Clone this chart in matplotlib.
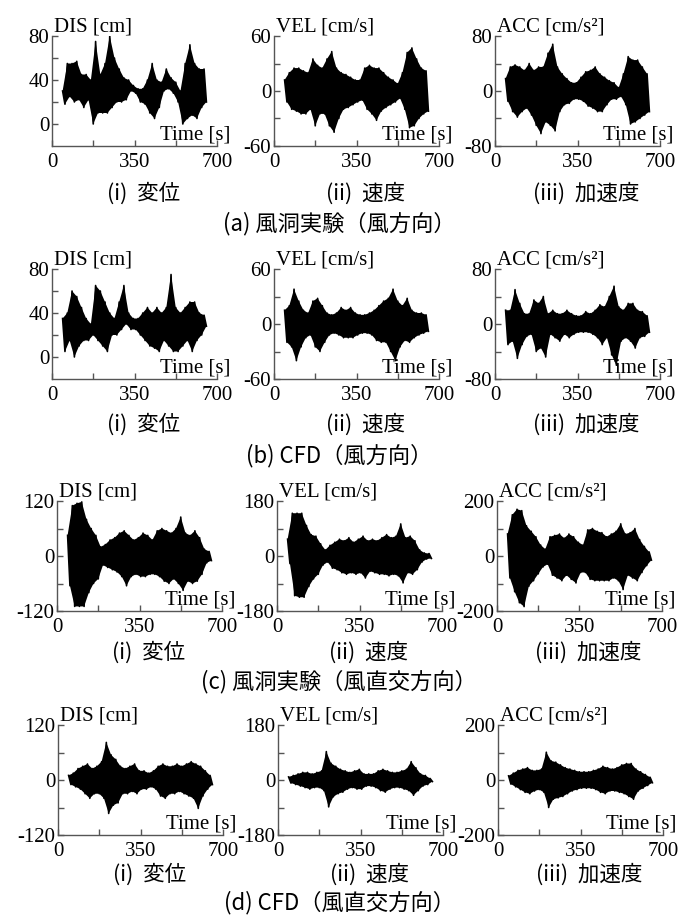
import numpy as np
import matplotlib
matplotlib.use("Agg")
import matplotlib.pyplot as plt

# envelope peaks: upper peak at t_up, lower peak 10 s later
t_up = np.arange(45, 646, 20)

a_dis_up = [30, 55, 55, 57, 45, 45, 40, 75, 45, 55, 80, 60, 50, 42, 40, 35, 32, 32, 40, 55, 40, 38, 50, 42, 38, 30, 55, 72, 55, 50, 50]
a_dis_lo = [18, 25, 20, 22, 15, 22, 0, 10, 10, 10, 15, 20, 20, 22, 30, 28, 20, 18, 10, 5, 15, 30, 32, 28, 20, 0, 5, 8, 5, 15, 20]
a_vel_up = [12, 20, 25, 25, 22, 20, 35, 28, 25, 35, 43, 25, 20, 18, 15, 12, 12, 25, 28, 25, 25, 20, 15, 12, 8, 20, 42, 47, 35, 25, 22]
a_vel_lo = [-12, -20, -22, -25, -25, -20, -38, -25, -25, -38, -45, -30, -20, -18, -15, -12, -10, -20, -25, -32, -22, -18, -15, -12, -8, -20, -40, -38, -30, -25, -22]
a_acc_up = [18, 35, 38, 35, 30, 40, 30, 35, 35, 55, 68, 35, 25, 18, 12, 12, 20, 28, 30, 35, 25, 20, 15, 12, 5, 25, 50, 45, 45, 35, 25]
a_acc_lo = [-15, -30, -38, -30, -25, -35, -50, -62, -45, -50, -58, -30, -20, -18, -12, -12, -15, -22, -25, -30, -30, -20, -12, -12, -8, -20, -48, -45, -40, -35, -30]

b_dis_up = [35, 40, 60, 55, 45, 35, 30, 65, 60, 50, 40, 35, 50, 65, 40, 35, 35, 40, 45, 40, 45, 40, 45, 75, 45, 40, 45, 50, 50, 40, 38]
b_dis_lo = [5, 15, 0, 10, 15, 15, 20, 15, 10, 5, 20, 20, 25, 30, 25, 25, 20, 15, 10, 8, 5, 15, 10, 5, 5, 10, 15, 5, 15, 20, 28]
b_vel_up = [15, 20, 38, 25, 15, 12, 25, 28, 20, 12, 10, 12, 18, 15, 18, 12, 10, 10, 12, 15, 20, 25, 28, 38, 25, 20, 28, 15, 12, 12, 10]
b_vel_lo = [-20, -25, -40, -25, -15, -12, -25, -30, -20, -12, -10, -12, -15, -15, -15, -12, -10, -10, -12, -18, -20, -20, -30, -40, -25, -18, -20, -15, -12, -10, -8]
b_acc_up = [20, 20, 50, 30, 15, 15, 35, 30, 40, 15, 20, 15, 15, 20, 15, 12, 12, 18, 15, 20, 28, 25, 40, 55, 25, 20, 30, 30, 20, 18, 12]
b_acc_lo = [-30, -25, -50, -30, -18, -15, -40, -35, -48, -15, -20, -25, -15, -20, -15, -12, -12, -12, -15, -20, -30, -20, -45, -60, -25, -20, -25, -35, -20, -18, -12]

c_dis_up = [45, 110, 115, 118, 80, 60, 45, 20, 25, 35, 40, 50, 55, 45, 35, 40, 50, 45, 35, 55, 60, 55, 50, 60, 85, 50, 45, 55, 40, 15, 10]
c_dis_lo = [-65, -110, -110, -110, -80, -60, -50, -20, -25, -30, -35, -45, -65, -45, -40, -45, -45, -40, -40, -45, -55, -60, -50, -60, -75, -55, -60, -55, -40, -15, -10]
c_vel_up = [55, 140, 140, 140, 100, 70, 65, 40, 20, 35, 45, 55, 50, 60, 45, 55, 65, 50, 55, 50, 60, 70, 60, 65, 105, 60, 65, 50, 20, 10, 8]
c_vel_lo = [-25, -130, -135, -135, -100, -75, -60, -30, -20, -40, -45, -55, -60, -55, -60, -55, -72, -50, -55, -60, -60, -65, -60, -65, -88, -55, -60, -45, -20, -10, -8]
c_acc_up = [80, 150, 170, 165, 110, 90, 70, 40, 25, 70, 75, 80, 65, 80, 70, 50, 40, 95, 100, 90, 85, 70, 80, 90, 117, 80, 85, 100, 60, 35, 15]
c_acc_lo = [-80, -130, -170, -184, -110, -90, -65, -40, -30, -70, -80, -90, -70, -85, -98, -60, -60, -85, -90, -90, -90, -90, -80, -90, -122, -70, -80, -90, -60, -35, -15]

d_dis_up = [10, 15, 25, 30, 35, 25, 30, 40, 82, 55, 45, 30, 25, 30, 35, 20, 20, 15, 20, 30, 35, 30, 30, 35, 30, 35, 40, 35, 30, 20, 10]
d_dis_lo = [-10, -15, -20, -30, -40, -30, -30, -40, -73, -55, -50, -30, -30, -25, -30, -20, -20, -15, -20, -35, -40, -30, -30, -25, -30, -35, -40, -62, -35, -20, -10]
d_vel_up = [10, 15, 20, 25, 25, 20, 25, 30, 93, 55, 45, 35, 30, 25, 30, 35, 20, 20, 20, 30, 35, 30, 25, 25, 30, 35, 60, 40, 20, 15, 5]
d_vel_lo = [-10, -15, -20, -25, -30, -25, -25, -35, -88, -55, -45, -40, -30, -25, -30, -30, -20, -20, -25, -35, -40, -30, -25, -25, -30, -35, -50, -35, -20, -15, -5]
d_acc_up = [15, 25, 35, 40, 45, 35, 35, 40, 101, 70, 65, 55, 45, 40, 35, 30, 30, 30, 35, 40, 50, 45, 40, 45, 55, 60, 60, 40, 30, 20, 10]
d_acc_lo = [-15, -25, -35, -45, -50, -40, -35, -45, -100, -70, -65, -60, -50, -40, -35, -30, -30, -30, -35, -45, -50, -40, -40, -45, -50, -60, -70, -40, -30, -20, -10]

quantity_labels = ["DIS [cm]", "VEL [cm/s]", "ACC [cm/s²]"]
sub_captions = ["(i)  変位", "(ii)  速度", "(iii)  加速度"]
row_captions = ["(a) 風洞実験（風方向）", "(b) CFD（風方向）",
                "(c) 風洞実験（風直交方向）", "(d) CFD（風直交方向）"]

# y limits / labelled ticks per row and column
ylims = [[(-20, 80), (-60, 60), (-80, 80)],
         [(-20, 80), (-60, 60), (-80, 80)],
         [(-120, 120), (-180, 180), (-200, 200)],
         [(-120, 120), (-180, 180), (-200, 200)]]
yticks = [[[0, 40, 80], [-60, 0, 60], [-80, 0, 80]],
          [[0, 40, 80], [-60, 0, 60], [-80, 0, 80]],
          [[-120, 0, 120], [-180, 0, 180], [-200, 0, 200]],
          [[-120, 0, 120], [-180, 0, 180], [-200, 0, 200]]]

signals = [[(a_dis_up, a_dis_lo), (a_vel_up, a_vel_lo), (a_acc_up, a_acc_lo)],
           [(b_dis_up, b_dis_lo), (b_vel_up, b_vel_lo), (b_acc_up, b_acc_lo)],
           [(c_dis_up, c_dis_lo), (c_vel_up, c_vel_lo), (c_acc_up, c_acc_lo)],
           [(d_dis_up, d_dis_lo), (d_vel_up, d_vel_lo), (d_acc_up, d_acc_lo)]]

W, H = 678, 918
# pixel layout: axes bottom, left edges, sub-caption y, row caption y
row_bottom = [146, 379, 611, 835]
row_lefts = [[52, 274, 495], [52, 274, 495], [57, 277, 497], [58, 278, 498]]
sub_y = [194, 425, 653, 875]
cap_y = [224, 456, 682, 903]
ax_w, ax_h = 165, 110

serif = "Liberation Serif"
cjk = ["Noto Sans CJK JP", "DejaVu Sans"]
spine_col = "#555555"

fig = plt.figure(figsize=(W / 100, H / 100), dpi=100)

for r in range(4):
    for c in range(3):
        left = row_lefts[r][c]
        ax = fig.add_axes([left / W, 1 - row_bottom[r] / H, ax_w / W, ax_h / H])
        up, lo = np.array(signals[r][c][0]), np.array(signals[r][c][1])
        t_lo = t_up + 10
        # dense record: black band between the peaks plus the peak-to-peak trace
        ax.fill(np.r_[t_up, t_lo[::-1]], np.r_[up, lo[::-1]], color="black", lw=0)
        t = np.column_stack([t_up, t_lo]).ravel()
        y = np.column_stack([up, lo]).ravel()
        ax.plot(t, y, color="black", linewidth=1.2)

        ax.set_xlim(0, 700)
        ax.set_ylim(*ylims[r][c])
        ax.set_xticks([0, 350, 700])
        ax.set_xticks([175, 525], minor=True)
        yt = yticks[r][c]
        ax.set_yticks(yt)
        ax.set_yticks([(yt[0] + yt[1]) / 2, (yt[1] + yt[2]) / 2], minor=True)
        ax.set_yticklabels([f"{v:g}" for v in yt])

        for s in ["top", "right"]:
            ax.spines[s].set_visible(False)
        for s in ["left", "bottom"]:
            ax.spines[s].set_color(spine_col)
            ax.spines[s].set_linewidth(1.0)
        ax.tick_params(which="both", direction="in", length=4, width=1,
                       color=spine_col)
        ax.tick_params(axis="x", pad=5)
        ax.tick_params(axis="y", pad=2)
        for lab in ax.get_xticklabels() + ax.get_yticklabels():
            lab.set_fontfamily(serif)
            lab.set_fontsize(15)
        ax.patch.set_alpha(0)

        ax.text(0.01, 1.0, quantity_labels[c], transform=ax.transAxes,
                ha="left", va="bottom", fontfamily=serif, fontsize=15)
        ax.text(1.08, 0.01, "Time [s]", transform=ax.transAxes,
                ha="right", va="bottom", fontfamily=serif, fontsize=15)

        fig.text((left + ax_w / 2 + 9) / W, 1 - sub_y[r] / H, sub_captions[c],
                 ha="center", va="center", family=cjk, fontsize=15.5)

    fig.text(0.5, 1 - cap_y[r] / H, row_captions[r], ha="center", va="center",
             family=cjk, fontsize=16)

fig.savefig("out.png", dpi=100)
